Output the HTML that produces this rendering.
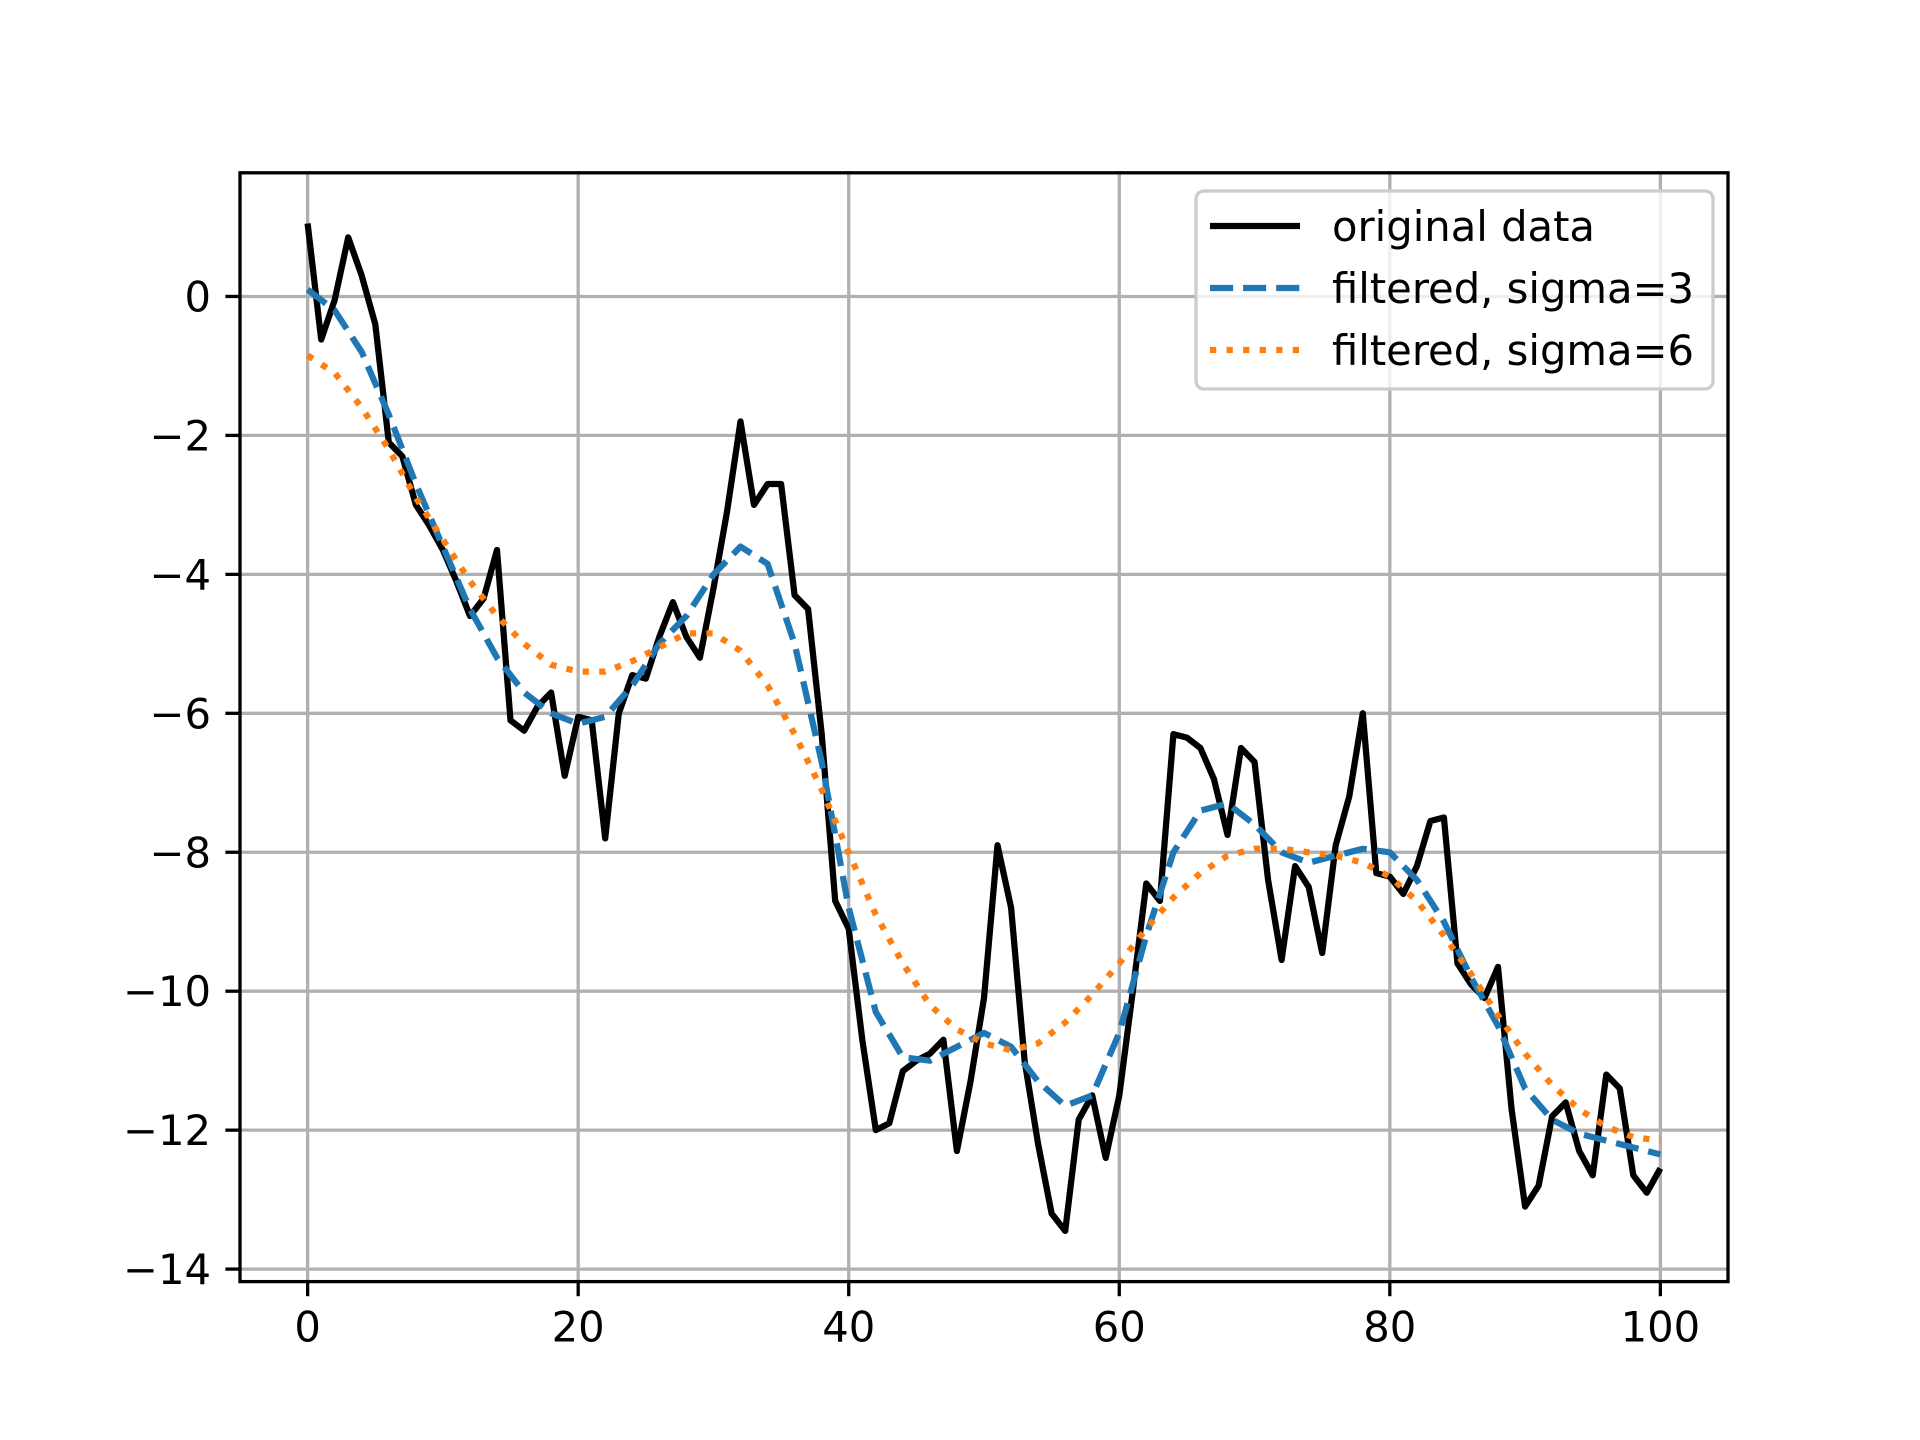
<!DOCTYPE html>
<html><head><meta charset="utf-8"><style>
html,body{margin:0;padding:0;background:#fff;}
svg{display:block;font-family:"DejaVu Sans","Liberation Sans",sans-serif;}
</style></head><body>
<svg id="chart" width="1920" height="1440" viewBox="0 0 1920 1440" xmlns="http://www.w3.org/2000/svg">
<rect width="1920" height="1440" fill="#fff"/>
<g id="grid"></g>
<g id="series"></g>
<rect x="240" y="172.8" width="1488" height="1108.8" fill="none" stroke="#000" stroke-width="3.3"/>
<g id="ticks"></g>
<g id="legend" transform="translate(-17,-4)">
<rect x="1213" y="195" width="517" height="198" rx="8" fill="#fff" fill-opacity="0.8" stroke="#cccccc" stroke-width="3.3"/>
<line x1="1227" y1="230" x2="1317" y2="230" stroke="#000" stroke-width="6.25"/>
<text x="1349" y="245" font-size="41.7">original data</text>
<line x1="1227" y1="292" x2="1317" y2="292" stroke="#1f77b4" stroke-width="6.25" stroke-dasharray="23.1 10"/>
<text x="1349" y="307" font-size="41.7">filtered, sigma=3</text>
<line x1="1227" y1="354" x2="1317" y2="354" stroke="#ff7f0e" stroke-width="6.25" stroke-dasharray="6.25 10.3"/>
<text x="1349" y="369" font-size="41.7">filtered, sigma=6</text>
</g>
</svg>
<script>
const original = [1.05,-0.62,-0.05,0.85,0.3,-0.4,-2.1,-2.3,-3.0,-3.3,-3.65,-4.1,-4.6,-4.35,-3.65,-6.1,-6.25,-5.9,-5.7,-6.9,-6.05,-6.1,-7.8,-6.0,-5.45,-5.5,-4.9,-4.4,-4.9,-5.2,-4.2,-3.1,-1.8,-3.0,-2.7,-2.7,-4.3,-4.5,-6.3,-8.7,-9.1,-10.7,-12.0,-11.9,-11.15,-11.0,-10.9,-10.7,-12.3,-11.3,-10.1,-7.9,-8.8,-11.0,-12.2,-13.2,-13.45,-11.85,-11.5,-12.4,-11.5,-10.0,-8.45,-8.7,-6.3,-6.35,-6.5,-6.95,-7.75,-6.5,-6.7,-8.4,-9.55,-8.2,-8.5,-9.45,-7.9,-7.2,-6.0,-8.3,-8.35,-8.6,-8.2,-7.55,-7.5,-9.6,-9.9,-10.1,-9.65,-11.7,-13.1,-12.8,-11.8,-11.6,-12.3,-12.65,-11.2,-11.4,-12.65,-12.9,-12.55];
const filteredX = [0,2,4,6,8,10,12,14,16,18,20,22,24,26,28,30,32,34,36,38,40,42,44,46,48,50,52,54,56,58,60,62,64,66,68,70,72,74,76,78,80,82,84,86,88,90,92,94,96,98,100];
const sigma3 = [0.1,-0.2,-0.8,-1.7,-2.7,-3.6,-4.5,-5.2,-5.7,-6.0,-6.15,-6.05,-5.6,-5.0,-4.6,-4.0,-3.6,-3.85,-5.0,-6.7,-8.8,-10.3,-10.95,-11.0,-10.8,-10.6,-10.8,-11.3,-11.65,-11.5,-10.6,-9.2,-8.0,-7.4,-7.3,-7.6,-8.0,-8.15,-8.05,-7.95,-8.0,-8.4,-9.0,-9.8,-10.5,-11.4,-11.85,-12.05,-12.15,-12.25,-12.35];
const sigma6 = [-0.85,-1.1,-1.6,-2.2,-2.9,-3.5,-4.1,-4.6,-5.0,-5.3,-5.4,-5.4,-5.25,-5.05,-4.85,-4.85,-5.1,-5.6,-6.3,-7.1,-8.0,-8.9,-9.6,-10.2,-10.55,-10.75,-10.85,-10.75,-10.45,-10.05,-9.6,-9.1,-8.65,-8.3,-8.05,-7.95,-7.95,-8.0,-8.05,-8.15,-8.35,-8.7,-9.2,-9.75,-10.35,-10.9,-11.35,-11.7,-11.95,-12.1,-12.15];
const xTicks = [0,20,40,60,80,100];
const yTicks = [0,-2,-4,-6,-8,-10,-12,-14];

const NS = "http://www.w3.org/2000/svg";
const L=240,R=1728,T=172.8,B=1281.6;
const xMin=-5,xMax=105,yMin=-14.18,yMax=1.78;
function sx(v){return L+(v-xMin)/(xMax-xMin)*(R-L);}
function sy(v){return B-(v-yMin)/(yMax-yMin)*(B-T);}
function mk(tag,attrs,parent){const e=document.createElementNS(NS,tag);for(const k in attrs)e.setAttribute(k,attrs[k]);parent.appendChild(e);return e;}
const grid=document.getElementById('grid'),ticks=document.getElementById('ticks'),series=document.getElementById('series');
xTicks.forEach(v=>{
  const g=mk('line',{x1:sx(v),x2:sx(v),y1:T,y2:B,stroke:'#b0b0b0','stroke-width':3.3},grid);
  
  
  const t=mk('line',{x1:sx(v),x2:sx(v),y1:B,y2:B+14.6,stroke:'#000','stroke-width':3.3},ticks);
  
  
  const l=mk('text',{x:sx(v),y:B+60,'font-size':41.7,'text-anchor':'middle'},ticks);
  l.textContent=String(v);
  
  
});
yTicks.forEach(v=>{
  const g=mk('line',{x1:L,x2:R,y1:sy(v),y2:sy(v),stroke:'#b0b0b0','stroke-width':3.3},grid);
  
  
  const t=mk('line',{x1:L-14.6,x2:L,y1:sy(v),y2:sy(v),stroke:'#000','stroke-width':3.3},ticks);
  
  
  const l=mk('text',{x:L-29,y:sy(v)+15,'font-size':41.7,'text-anchor':'end'},ticks);
  l.textContent=(v<0?'\u2212':'')+Math.abs(v);
  
  
});
function pts(xs,ys){return ys.map((y,i)=>sx(xs[i]).toFixed(1)+','+sy(y).toFixed(1)).join(' ');}
const origX=original.map((_,i)=>i);
const p1=mk('polyline',{points:pts(origX,original),fill:'none',stroke:'#000','stroke-width':6.25,'stroke-linejoin':'round'},series);


const p2=mk('polyline',{points:pts(filteredX,sigma3),fill:'none',stroke:'#1f77b4','stroke-width':6.25,'stroke-dasharray':'23.1 10','stroke-linejoin':'round'},series);


const p3=mk('polyline',{points:pts(filteredX,sigma6),fill:'none',stroke:'#ff7f0e','stroke-width':6.25,'stroke-dasharray':'6.25 10.3','stroke-linejoin':'round'},series);


</script>
</body></html>
